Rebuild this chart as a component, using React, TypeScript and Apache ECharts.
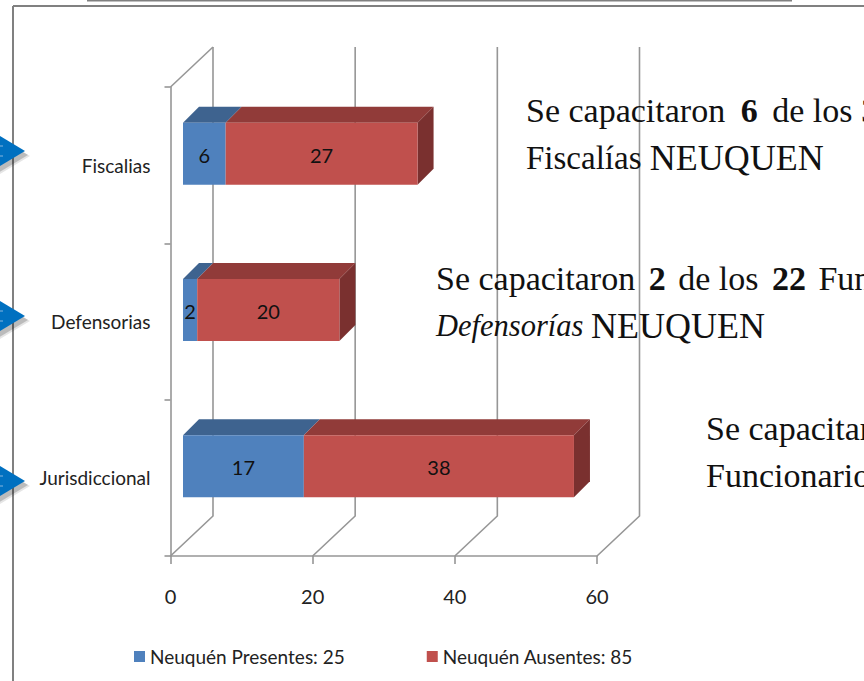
import React, { useEffect, useRef } from "react";
import * as echarts from "echarts";

const categories = ["Jurisdiccional", "Defensorias", "Fiscalias"];
const presentes = [17, 2, 6];
const ausentes = [38, 20, 27];
const valueTicks = [0, 20, 40, 60];
const seriesNames = ["Neuquén Presentes: 25", "Neuquén Ausentes: 85"];
const LABEL_FONT = "Lato, sans-serif";
const SERIF = "'Liberation Serif', serif";
const NOTE_SIZE = 34;

const BLUE = { front: "#4f81bd", top: "#3e638f", side: "#35557c" };
const RED = { front: "#c0504d", top: "#913b39", side: "#7a302f" };

function barItem(colors: any, isLast: boolean) {
  return (params: any, api: any) => {
    const cat = api.value(0);
    const start = api.value(1);
    const end = api.value(2);
    const p0 = api.coord([start, cat]);
    const p1 = api.coord([end, cat]);
    const x0 = p0[0] + 12.5;
    const x1 = p1[0] + 12.5;
    const yc = p0[1] - 11.5;
    const h = 62;
    const d = 16;
    const yTop = yc - h / 2;
    const yBot = yc + h / 2;
    const children: any[] = [
      {
        type: "polygon",
        shape: { points: [[x0, yTop], [x1, yTop], [x1 + d, yTop - d], [x0 + d, yTop - d]] },
        style: { fill: colors.top },
      },
    ];
    if (isLast) {
      children.push({
        type: "polygon",
        shape: { points: [[x1, yTop], [x1 + d, yTop - d], [x1 + d, yBot - d], [x1, yBot]] },
        style: { fill: colors.side },
      });
    }
    children.push({
      type: "rect",
      shape: { x: x0, y: yTop, width: x1 - x0, height: h },
      style: { fill: colors.front },
    });
    children.push({
      type: "text",
      x: (x0 + x1) / 2,
      y: yc + 1,
      style: {
        text: String(end - start),
        fill: "#111",
        font: `20px ${LABEL_FONT}`,
        align: "center",
        verticalAlign: "middle",
      },
    });
    return { type: "group", children };
  };
}

function wallItem(params: any, api: any) {
  const v = api.value(0);
  const bottom = api.coord([v, 0]);
  const baseY = bottom[1] + (api.size([0, 1])[1] as number) / 2;
  const x = bottom[0];
  const topY = baseY - 469;
  const stroke = { stroke: "#969696", lineWidth: 1.6, fill: "none" };
  const children: any[] = [
    {
      type: "polyline",
      shape: { points: [[x, baseY], [x + 42.5, baseY - 40], [x + 42.5, topY - 40]] },
      style: stroke,
    },
  ];
  if (v === 0) {
    children.push({
      type: "polyline",
      shape: { points: [[x, topY], [x + 42.5, topY - 40]] },
      style: stroke,
    });
  }
  return { type: "group", children };
}

function arrow(tipY: number) {
  const shape = [[-6, tipY - 18.5], [25, tipY], [-6, tipY + 18.5]];
  const offset = (dx: number, dy: number) => shape.map(([x, y]) => [x + dx, y + dy]);
  return [
    { type: "polygon", z: 44, shape: { points: offset(5, 5) }, style: { fill: "rgba(0,0,0,0.10)" } },
    { type: "polygon", z: 44, shape: { points: offset(3, 4) }, style: { fill: "rgba(0,0,0,0.18)" } },
    { type: "polygon", z: 45, shape: { points: shape }, style: { fill: "#0070c0" } },
    { type: "line", z: 46, shape: { x1: 0, y1: tipY - 5, x2: 3, y2: tipY - 5 }, style: { stroke: "#5a9fd4", lineWidth: 1.5 } },
    { type: "line", z: 46, shape: { x1: 0, y1: tipY + 5, x2: 3, y2: tipY + 5 }, style: { stroke: "#5a9fd4", lineWidth: 1.5 } },
  ];
}

function note(x: number, y: number, text: string) {
  const common = { fill: "#111", lineHeight: 47 };
  const regular = `${NOTE_SIZE}px ${SERIF}`;
  const bold = `bold ${NOTE_SIZE}px ${SERIF}`;
  return {
    type: "text",
    x,
    y,
    z: 50,
    style: {
      text,
      fill: "#111",
      font: regular,
      lineHeight: 47,
      rich: {
        n: { ...common, font: regular },
        s: { ...common, font: `33px ${SERIF}` },
        c: { ...common, font: `36px ${SERIF}` },
        i: { ...common, font: `italic 30.5px ${SERIF}` },
        b7: { ...common, font: bold, padding: [0, 0, 0, 7] },
        b5: { ...common, font: bold, padding: [0, 0, 0, 5] },
        b8: { ...common, font: bold, padding: [0, 0, 0, 8] },
        n6: { ...common, font: regular, padding: [0, 0, 0, 6] },
        n4: { ...common, font: regular, padding: [0, 0, 0, 4] },
      },
    },
  };
}

export default function App() {
  const ref = useRef<HTMLDivElement>(null);
  useEffect(() => {
    document.body.style.margin = "0";
    document.body.style.overflow = "hidden";
    const chart = echarts.init(ref.current!, undefined, { renderer: "svg" });
    const presentRows = presentes.map((v, i) => [i, 0, v]);
    const absentRows = ausentes.map((v, i) => [i, presentes[i], presentes[i] + v]);
    chart.setOption({
      animation: false,
      backgroundColor: "#fff",
      grid: { left: 170.5, width: 426.5, top: 87, height: 469, containLabel: false },
      xAxis: {
        type: "value",
        min: 0,
        max: 60,
        interval: 20,
        splitLine: { show: false },
        axisLine: { show: true, onZero: false, lineStyle: { color: "#969696", width: 1.6 } },
        axisTick: { show: true, length: 8, lineStyle: { color: "#969696", width: 1.6 } },
        axisLabel: { color: "#222", margin: 30, fontSize: 20, fontFamily: LABEL_FONT },
      },
      yAxis: {
        type: "category",
        data: categories,
        axisLine: { show: true, lineStyle: { color: "#969696", width: 1.6 } },
        axisTick: { show: true, length: 6, lineStyle: { color: "#969696", width: 1.6 } },
        axisLabel: { color: "#222", margin: 20, fontSize: 19, fontFamily: LABEL_FONT, padding: [5, 0, 0, 0] },
      },
      legend: {
        left: 134,
        top: 647,
        padding: 0,
        itemWidth: 11,
        itemHeight: 11,
        itemGap: 82,
        icon: "rect",
        textStyle: { color: "#222", fontSize: 19, fontFamily: LABEL_FONT },
        data: seriesNames,
      },
      series: [
        {
          type: "custom",
          silent: true,
          coordinateSystem: "cartesian2d",
          renderItem: wallItem,
          encode: { x: 0 },
          data: valueTicks.map((v) => [v]),
          z: 1,
        },
        {
          name: seriesNames[0],
          type: "custom",
          coordinateSystem: "cartesian2d",
          itemStyle: { color: BLUE.front },
          renderItem: barItem(BLUE, false),
          encode: { y: 0, x: [1, 2] },
          data: presentRows,
          z: 3,
        },
        {
          name: seriesNames[1],
          type: "custom",
          coordinateSystem: "cartesian2d",
          itemStyle: { color: RED.front },
          renderItem: barItem(RED, true),
          encode: { y: 0, x: [1, 2] },
          data: absentRows,
          z: 4,
        },
      ],
      graphic: [
        { type: "line", z: 40, shape: { x1: 87, y1: 0.5, x2: 792, y2: 0.5 }, style: { stroke: "#808080", lineWidth: 2 } },
        { type: "line", z: 40, shape: { x1: 13, y1: 6, x2: 864, y2: 6 }, style: { stroke: "#808080", lineWidth: 2 } },
        { type: "line", z: 40, shape: { x1: 13, y1: 6, x2: 13, y2: 681 }, style: { stroke: "#808080", lineWidth: 2 } },
        ...arrow(151),
        ...arrow(316),
        ...arrow(481),
        note(526, 87, "{n|Se capacitaron }{b7|6}{n6| de los 3}\n{s|Fiscalías }{c|NEUQUEN}"),
        note(436, 255, "{n|Se capacitaron }{b5|2}{n4| de los }{b5|22}{n4| Fun}\n{i|Defensorías }{c|NEUQUEN}"),
        note(706, 405, "{n|Se capacitar}\n{n|Funcionario}"),
      ],
    });
    return () => chart.dispose();
  }, []);
  return <div ref={ref} style={{ width: 864, height: 681 }} />;
}
